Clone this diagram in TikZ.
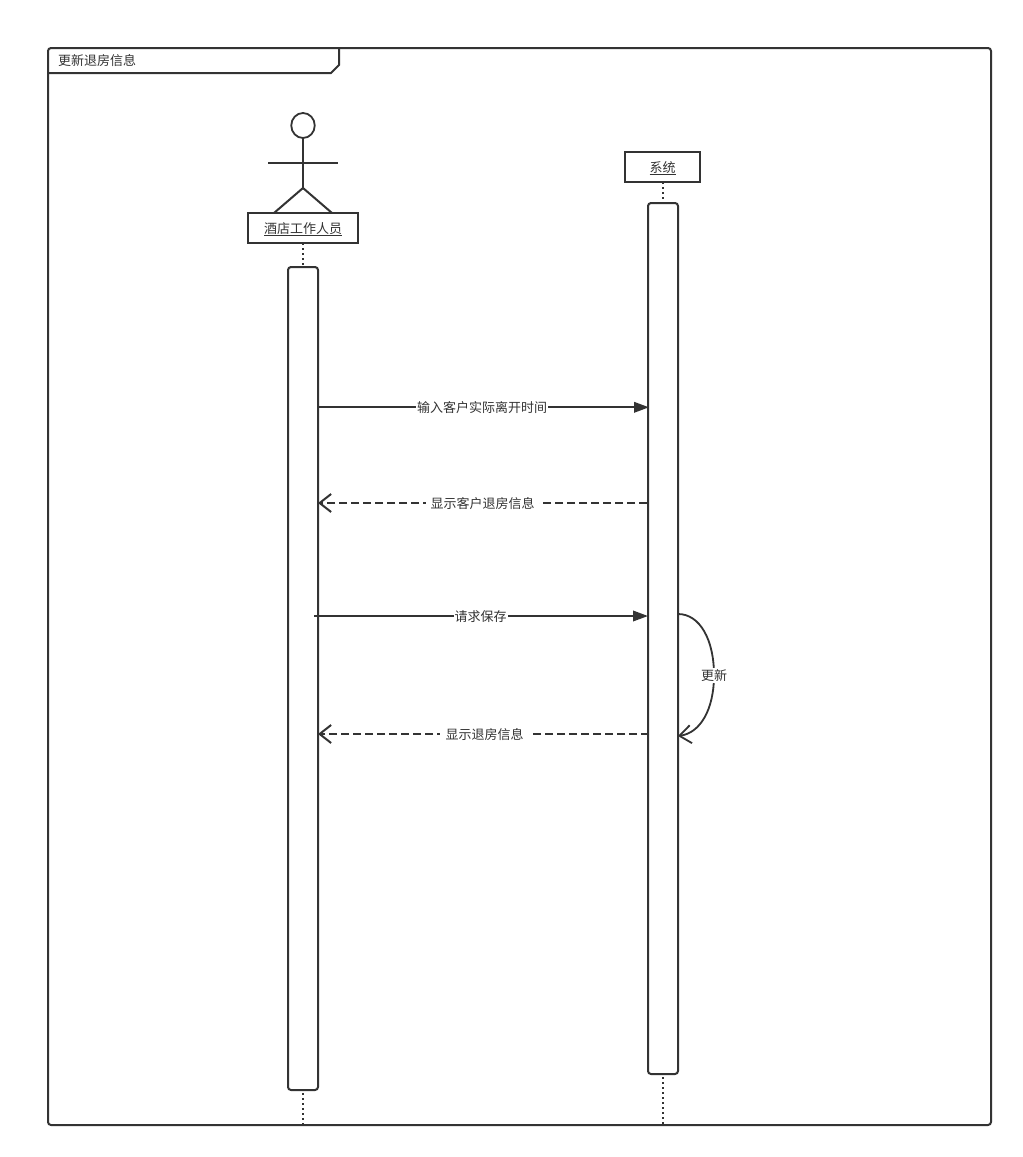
\documentclass[tikz,border=0pt]{standalone}
\usepackage{fontspec}
\setmainfont{Noto Sans CJK SC}
\usetikzlibrary{arrows.meta,shapes.geometric}
\definecolor{ink}{HTML}{333333}
\tikzset{
  every node/.style={text=ink,font=\fontsize{13}{15}\selectfont,inner sep=0pt,outer sep=0pt},
  stroke/.style={draw=ink,line width=2pt},
  headbox/.style={stroke,rectangle,fill=white,text height=13pt,text depth=3pt},
  activation/.style={stroke,rectangle,rounded corners=3pt,fill=white,minimum width=30pt},
  lifeline/.style={draw=ink,line width=2pt,dash pattern=on 2.2pt off 2.8pt},
  msglabel/.style={fill=white,inner xsep=1pt,inner ysep=1pt},
  solidmsg/.style={stroke,-{Triangle[length=15pt,width=10.5pt]}},
  replymsg/.style={stroke,dash pattern=on 8pt off 4pt,dash phase=11pt,-{Straight Barb[length=11.5pt,width=18pt,line width=2pt]}},
  selfmsg/.style={draw=ink,line width=1.8pt,-{Straight Barb[length=11.5pt,width=18pt,line width=1.8pt]}},
}
\begin{document}
\begin{tikzpicture}[x=1pt,y=-1pt]
\useasboundingbox[fill=white] (0,0) rectangle (1023,1157);

% frame and its tab
\draw[stroke,rounded corners=3pt] (48,48) rectangle (991,1125);
\draw[stroke,rounded corners=0pt] (48,73) -- (331,73) -- (339,65) -- (339,48);
\node[anchor=west] (frametitle) at (58,60.5) {更新退房信息};

% actor
\node[draw=ink,line width=1.8pt,ellipse,minimum width=23.5pt,minimum height=25pt] (head) at (303,125.5) {};
\coordinate (hip) at (303,188);
\coordinate (armL) at (268,163);
\coordinate (armR) at (338,163);
\coordinate (legL) at (274,213);
\coordinate (legR) at (332,213);
\draw[stroke] (head.south) -- (hip);
\draw[stroke] (armL) -- (armR);
\draw[stroke] (legL) -- (hip) -- (legR);

% lifeline heads
\node[headbox,minimum width=110pt,minimum height=30pt] (staff) at (303,228) {\underline{酒店工作人员}};
\node[headbox,minimum width=75pt,minimum height=30pt] (sys) at (662.5,167) {\underline{系统}};

% activation bars
\node[activation,minimum height=823pt] (barA) at (303,678.5) {};
\node[activation,minimum height=871pt] (barB) at (663,638.5) {};

% lifeline ends
\coordinate (endA) at (303,1125);
\coordinate (endB) at (662.5,1125);
\coordinate (startA) at (303,1093);
\coordinate (startB) at (662.5,1077);
\coordinate (stopB) at (662.5,200);
\draw[lifeline] (staff.south) -- (barA.north);
\draw[lifeline] (sys.south -| stopB) -- (stopB);
\draw[lifeline] (startA) -- (endA);
\draw[lifeline] (startB) -- (endB);

% messages
\coordinate (m1) at (0,407.3);
\coordinate (m2) at (0,503);
\coordinate (m3) at (0,616);
\coordinate (m4) at (0,734);
\coordinate (m1end) at (649,407.3);
\coordinate (m3start) at (314,616);
\coordinate (m4start) at (650,734);
\coordinate (selfA) at (678,614);
\coordinate (selfB) at (678,736);

\draw[solidmsg] (barA.east |- m1) -- (m1end);
\node[msglabel] (l1) at (482,407.5) {输入客户实际离开时间};

\draw[replymsg] (barB.west |- m2) -- (barA.east |- m2);
\node[msglabel,inner xsep=4.5pt] (l2) at (482.5,503.5) {显示客户退房信息};

\draw[solidmsg] (m3start) -- (barB.west |- m3);
\node[msglabel] (l3) at (480.5,616.5) {请求保存};

\draw[replymsg] (m4start) -- (barA.east |- m4);
\node[msglabel,inner xsep=5.5pt] (l4) at (484.5,734.5) {显示退房信息};

\draw[selfmsg] (selfA) .. controls (700,614) and (714,640) .. (714,675) .. controls (714,710) and (700,733) .. (selfB);
\node[msglabel] (l5) at (714,675.5) {更新};
\end{tikzpicture}
\end{document}
